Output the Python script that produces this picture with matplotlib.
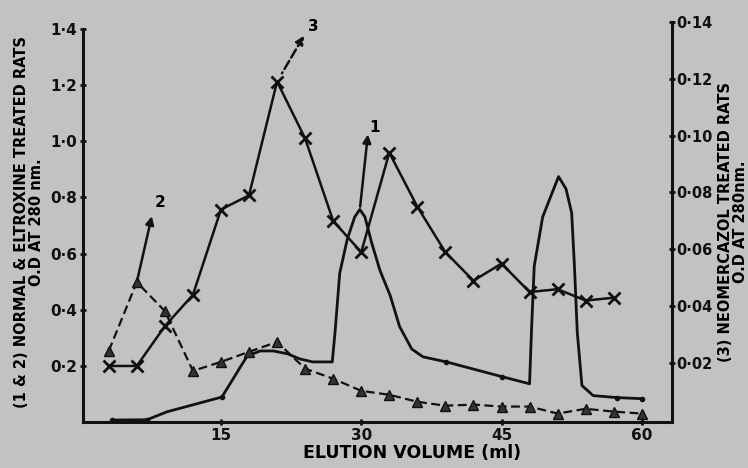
import matplotlib.pyplot as plt

# curve 1 : normal rats (solid, left axis)
vol_1 = [3.4, 7.1, 9.2, 15.1, 17.8, 19.2, 20.6, 22.1, 23.4, 24.8, 26.9, 27.2, 27.7, 28.5,
         29.3, 29.85, 30.4, 31.1, 32.0, 33.1, 34.1, 35.4, 36.6, 39.1, 45.1, 48.0, 48.2,
         48.5, 49.4, 51.1, 51.9, 52.5, 52.8, 53.1, 53.6, 54.8, 57.3, 60.0]
od_1 = [0.007, 0.008, 0.036, 0.089, 0.235, 0.253, 0.253, 0.243, 0.225, 0.214, 0.214, 0.32,
        0.53, 0.65, 0.73, 0.757, 0.73, 0.64, 0.54, 0.45, 0.34, 0.26, 0.232, 0.214, 0.161,
        0.136, 0.32, 0.555, 0.73, 0.874, 0.83, 0.745, 0.555, 0.32, 0.13, 0.094, 0.087, 0.083]
dots_1 = [0, 1, 3, 23, 24, 36, 37]

# curve 2 : eltroxine treated (triangles, left axis)
vol_2 = [3, 6, 9, 12, 15, 18, 21, 24, 27, 30, 33, 36, 39, 42, 45, 48, 51, 54, 57, 60]
od_2 = [0.253, 0.498, 0.395, 0.182, 0.214, 0.250, 0.285, 0.190, 0.154, 0.111, 0.097,
        0.072, 0.058, 0.062, 0.055, 0.055, 0.030, 0.047, 0.037, 0.030]

# curve 3 : neomercazol treated (crosses, right axis)
vol_3 = [3, 6, 9, 12, 15, 18, 21, 24, 27, 30, 33, 36, 39, 42, 45, 48, 51, 54, 57]
od_3 = [0.019, 0.019, 0.033, 0.044, 0.074, 0.079, 0.119, 0.099, 0.070, 0.059, 0.094,
        0.075, 0.059, 0.049, 0.055, 0.045, 0.046, 0.042, 0.043]

x_ticks = [15, 30, 45, 60]
left_ticks = [0.2, 0.4, 0.6, 0.8, 1.0, 1.2, 1.4]
left_labels = ['0·2', '0·4', '0·6', '0·8', '1·0', '1·2', '1·4']
right_ticks = [0.02, 0.04, 0.06, 0.08, 0.10, 0.12, 0.14]
right_labels = ['0·02', '0·04', '0·06', '0·08', '0·10', '0·12', '0·14']

bg = '#c2c2c2'
ink = '#111111'
plt.rcParams['font.family'] = ['DejaVu Sans']
plt.rcParams['font.weight'] = 'bold'

fig = plt.figure(figsize=(7.48, 4.68), dpi=100, facecolor=bg)
ax = fig.add_axes([0.111, 0.0983, 0.787, 0.855])
ax.set_facecolor(bg)
ax2 = ax.twinx()

ax.plot(vol_1, od_1, color=ink, lw=2.0, marker='o', ms=3, markevery=dots_1, zorder=3)
ax.plot(vol_2, od_2, color=ink, lw=1.6, ls=(0, (4, 2)), marker='^', ms=7,
        mfc='#333333', mec=ink, zorder=3)
ax2.plot(vol_3, od_3, color=ink, lw=1.8, marker='x', ms=9, mew=2.0, zorder=3)

ax.set_xlim(0.25, 63.2)
ax.set_ylim(0, 1.425)
ax2.set_ylim(-0.0007, 0.140)

for s in ax.spines.values():
    s.set_linewidth(2.2)
    s.set_color(ink)
for s in ax2.spines.values():
    s.set_linewidth(2.2)
    s.set_color(ink)
ax.spines['top'].set_visible(False)
ax.spines['right'].set_visible(False)
ax2.spines['top'].set_visible(False)
ax2.spines['left'].set_visible(False)
ax2.spines['bottom'].set_visible(False)
ax.spines['left'].set_bounds(0, 1.4)

ax.set_xticks(x_ticks)
ax.set_xticklabels([str(v) for v in x_ticks], fontsize=11, fontweight='bold')
ax.set_yticks(left_ticks)
ax.set_yticklabels(left_labels, fontsize=11, fontweight='bold')
ax2.set_yticks(right_ticks)
ax2.set_yticklabels(right_labels, fontsize=10.5, fontweight='bold')
ax.tick_params(axis='both', direction='inout', length=5, width=2, colors=ink, pad=2)
ax2.tick_params(axis='y', direction='inout', length=5, width=2, colors=ink, pad=1)

ax.set_xlabel('ELUTION VOLUME (ml)', fontsize=12.5, fontweight='bold', labelpad=2)
ax.xaxis.set_label_coords(0.559, -0.055)
ax.set_ylabel('(1 & 2) NORMAL & ELTROXINE TREATED RATS\nO.D AT 280 nm.', fontsize=10.5,
              fontweight='bold', linespacing=1.0, labelpad=4)
ax2.set_ylabel('(3) NEOMERCAZOL TREATED RATS\nO.D AT 280nm.', fontsize=10.5,
               fontweight='bold', linespacing=1.0, rotation=90, labelpad=4)

arrow = dict(arrowstyle='<|-', color=ink, lw=1.8, mutation_scale=12, shrinkA=0, shrinkB=2)

# peak labels
ax.annotate('', xy=(vol_1[15], od_1[15]), xytext=(5.8, 54), textcoords='offset points',
            arrowprops=arrow)
ax.annotate('1', xy=(vol_1[15], od_1[15]), xytext=(10.8, 59), textcoords='offset points',
            fontsize=11, fontweight='bold', ha='center', va='center')
ax.annotate('', xy=(vol_2[1], od_2[1]), xytext=(10.8, 47.5), textcoords='offset points',
            arrowprops=arrow)
ax.annotate('2', xy=(vol_2[1], od_2[1]), xytext=(16.6, 57.6), textcoords='offset points',
            fontsize=11, fontweight='bold', ha='center', va='center')
ax2.annotate('', xy=(vol_3[6], od_3[6]), xytext=(19.4, 33), textcoords='offset points',
             arrowprops=dict(arrow, shrinkB=7, ls='--'))
ax2.annotate('3', xy=(vol_3[6], od_3[6]), xytext=(26, 40), textcoords='offset points',
             fontsize=11, fontweight='bold', ha='center', va='center')

fig.savefig('out.png', dpi=100, facecolor=bg)
